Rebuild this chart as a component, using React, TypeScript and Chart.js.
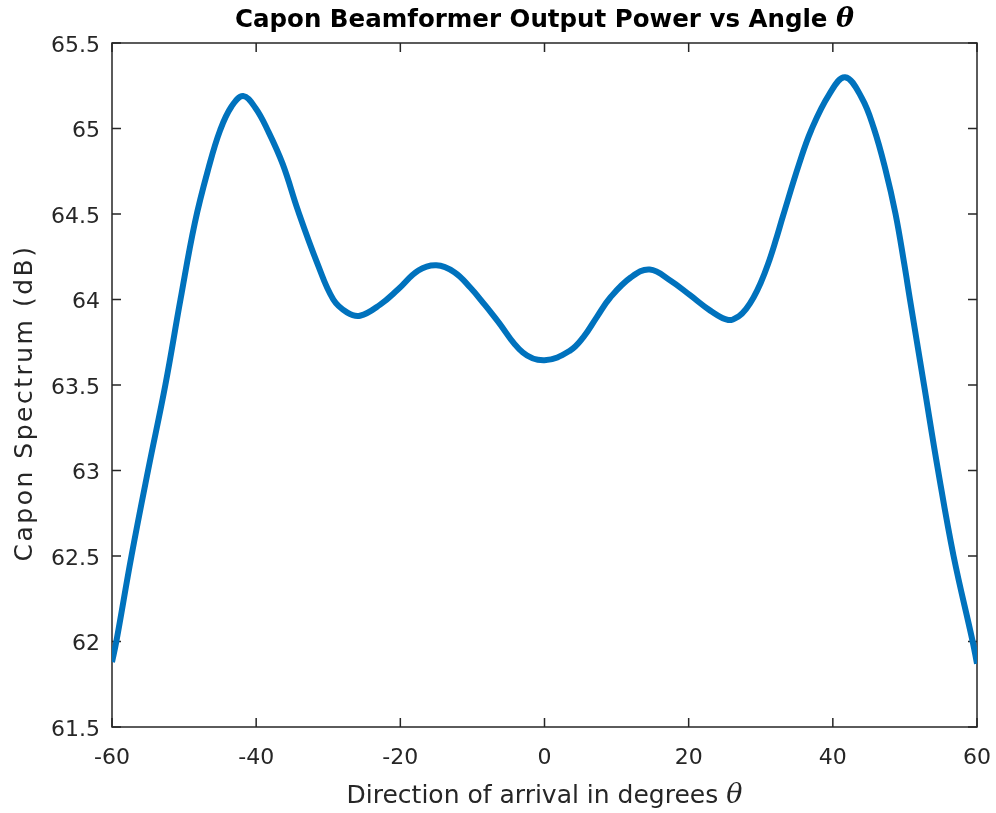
import React, { useEffect, useRef } from "react";
import { Chart, registerables } from "chart.js";

Chart.register(...registerables);

// Direction of arrival (degrees)
const angles = [
  -60, -59.4, -57.3, -55, -52.6, -50.5, -48.5, -46.6, -45, -43.4, -41.8, -40.1,
  -38.4, -36.3, -34.2, -31.5, -29.3, -27.4, -25.6, -22.8, -20.3, -17.5, -15,
  -12.5, -10.3, -8.3, -6.6, -3, 0, 3.5, 5.4, 7.3, 9.1, 12, 14.6, 17.5, 20.2, 23,
  25.5, 27, 28, 29, 30, 31, 32, 33.1, 35.3, 37, 39.5, 41.7, 44, 45.7, 47.3, 48.7,
  49.9, 50.7, 52.65, 54.6, 56.75, 59.4, 60,
];

// Capon spectrum (dB)
const power = [
  61.88, 62.0, 62.5, 63.0, 63.5, 64.0, 64.45, 64.77, 64.99, 65.13, 65.19, 65.12,
  64.99, 64.79, 64.52, 64.21, 64.0, 63.925, 63.905, 63.97, 64.06, 64.17, 64.2,
  64.16, 64.07, 63.97, 63.88, 63.69, 63.645, 63.7, 63.78, 63.9, 64.01, 64.13, 64.175, 64.11, 64.025, 63.935,
  63.88, 63.904, 63.947, 64.012, 64.098, 64.206, 64.335, 64.49, 64.79, 64.99, 65.2, 65.3, 65.18, 65.0, 64.76, 64.5,
  64.21, 64.0, 63.5, 63.0, 62.5, 62.0, 61.87,
];

const xRange = [-60, 60];
const xStep = 20;
const yRange = [61.5, 65.5];
const yStep = 0.5;

const titleText = "Capon Beamformer Output Power vs Angle ";
const xLabelText = "Direction of arrival in degrees ";
const thetaSymbol = "θ";
const yLabelText = "Capon Spectrum (dB)";

const AXIS_COLOR = "#262626";
const LINE_COLOR = "#0072BD";
const SANS = "'DejaVu Sans', sans-serif";
const SERIF = "'DejaVu Serif', serif";

const framePlugin = {
  id: "matlabFrame",
  beforeDatasetsDraw(chart: any) {
    const { ctx, chartArea, scales } = chart;
    const { left, right, top, bottom } = chartArea;
    ctx.save();
    ctx.strokeStyle = AXIS_COLOR;
    ctx.lineWidth = 1.5;
    ctx.strokeRect(left, top, right - left, bottom - top);
    const len = 9;
    ctx.beginPath();
    for (const t of scales.x.ticks) {
      const px = scales.x.getPixelForValue(t.value);
      ctx.moveTo(px, bottom);
      ctx.lineTo(px, bottom - len);
      ctx.moveTo(px, top);
      ctx.lineTo(px, top + len);
    }
    for (const t of scales.y.ticks) {
      const py = scales.y.getPixelForValue(t.value);
      ctx.moveTo(left, py);
      ctx.lineTo(left + len, py);
      ctx.moveTo(right, py);
      ctx.lineTo(right - len, py);
    }
    ctx.stroke();
    ctx.restore();
  },
  afterDraw(chart: any) {
    const { ctx, chartArea } = chart;
    const { left, right, top, bottom } = chartArea;
    const cx = (left + right) / 2;
    ctx.save();
    ctx.textAlign = "left";
    ctx.textBaseline = "alphabetic";

    // Title
    const tMain = `bold 24.5px ${SANS}`;
    const tTheta = `italic bold 27px ${SERIF}`;
    ctx.font = tMain;
    const w1 = ctx.measureText(titleText).width;
    ctx.font = tTheta;
    const w2 = ctx.measureText(thetaSymbol).width;
    let x0 = cx - (w1 + w2) / 2;
    ctx.fillStyle = "#000000";
    ctx.font = tMain;
    ctx.fillText(titleText, x0, top - 16);
    ctx.font = tTheta;
    ctx.fillText(thetaSymbol, x0 + w1, top - 16);

    // X label
    const xMain = `25px ${SANS}`;
    const xTheta = `italic 27px ${SERIF}`;
    ctx.font = xMain;
    const w3 = ctx.measureText(xLabelText).width;
    ctx.font = xTheta;
    const w4 = ctx.measureText(thetaSymbol).width;
    x0 = cx - (w3 + w4) / 2;
    ctx.fillStyle = AXIS_COLOR;
    ctx.font = xMain;
    ctx.fillText(xLabelText, x0, bottom + 76);
    ctx.font = xTheta;
    ctx.fillText(thetaSymbol, x0 + w3, bottom + 76);

    // Y label
    ctx.translate(32, (top + bottom) / 2 + 18);
    ctx.rotate(-Math.PI / 2);
    ctx.font = `25px ${SANS}`;
    try {
      (ctx as any).letterSpacing = "2.5px";
    } catch (e) {}
    ctx.textAlign = "center";
    ctx.fillText(yLabelText, 0, 0);
    ctx.restore();
  },
};

export default function App() {
  const canvasRef = useRef<HTMLCanvasElement | null>(null);

  useEffect(() => {
    document.body.style.margin = "0";
    const canvas = canvasRef.current;
    if (!canvas) return;
    const data = angles.map((a, i) => ({ x: a, y: power[i] }));
    const chart = new Chart(canvas, {
      type: "line",
      data: {
        datasets: [
          {
            data,
            borderColor: LINE_COLOR,
            backgroundColor: LINE_COLOR,
            borderWidth: 6,
            pointRadius: 0,
            fill: false,
            tension: 0.4,
            borderCapStyle: "butt",
            borderJoinStyle: "round",
          },
        ],
      },
      options: {
        animation: false,
        responsive: true,
        maintainAspectRatio: false,
        devicePixelRatio: 1,
        layout: { padding: { top: 43, right: 19, left: 0, bottom: 0 } },
        plugins: {
          legend: { display: false },
          title: { display: false },
          tooltip: { enabled: false },
        },
        scales: {
          x: {
            type: "linear",
            min: xRange[0],
            max: xRange[1],
            ticks: {
              stepSize: xStep,
              color: AXIS_COLOR,
              font: { family: SANS, size: 22 },
              padding: 18,
              maxRotation: 0,
              callback: (v: any) => String(Number(v)),
            },
            grid: { display: false, drawTicks: false },
            border: { display: false },
            afterFit: (s: any) => {
              s.height = 86;
              s.paddingLeft = 0;
              s.paddingRight = 0;
            },
          },
          y: {
            type: "linear",
            min: yRange[0],
            max: yRange[1],
            ticks: {
              stepSize: yStep,
              color: AXIS_COLOR,
              font: { family: SANS, size: 22 },
              padding: 12,
              labelOffset: 3,
              callback: (v: any) => String(Math.round(Number(v) * 10) / 10),
            },
            grid: { display: false, drawTicks: false },
            border: { display: false },
            afterFit: (s: any) => {
              s.width = 112;
              s.paddingTop = 0;
              s.paddingBottom = 0;
            },
          },
        },
      },
      plugins: [framePlugin],
    });
    return () => chart.destroy();
  }, []);

  return (
    <div style={{ position: "relative", width: 996, height: 813, background: "#fff" }}>
      <canvas ref={canvasRef} />
    </div>
  );
}
